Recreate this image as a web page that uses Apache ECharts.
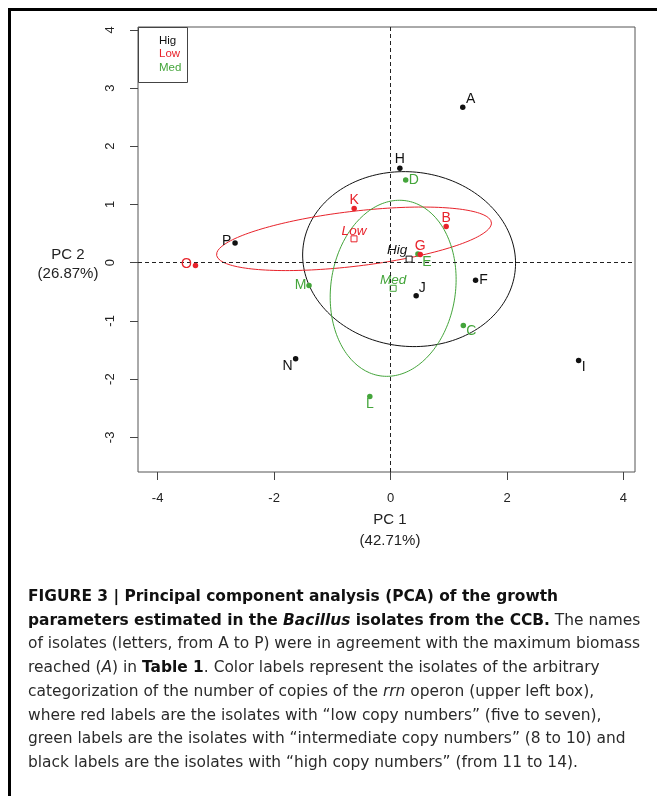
<!DOCTYPE html>
<html><head><meta charset="utf-8">
<script src="https://cdn.jsdelivr.net/npm/echarts@6/dist/echarts.min.js"></script>
<style>html,body{margin:0;padding:0;background:#fff}#c{width:657px;height:796px}</style>
</head><body><div id="c"></div>
<script>
// ---------------- DATA ----------------
const isolates = ['A','B','C','D','E','F','G','H','I','J','K','L','M','N','O','P'];
const pc1 = [1.24, 0.955, 1.25, 0.26, 0.47, 1.46, 0.51, 0.16, 3.23, 0.44, -0.625, -0.356, -1.40, -1.63, -3.35, -2.67];
const pc2 = [2.67, 0.62, -1.08, 1.42, 0.15, -0.30, 0.14, 1.62, -1.68, -0.57, 0.93, -2.30, -0.39, -1.65, -0.05, 0.34];
const copyGroup = ['Hig','Low','Med','Med','Med','Hig','Low','Hig','Hig','Hig','Low','Med','Med','Hig','Low','Hig'];
const groups = ['Hig','Low','Med'];
const xTicks = [-4, -2, 0, 2, 4];
const yTicks = [-3, -2, -1, 0, 1, 2, 3, 4];
const xTitle = 'PC 1\n(42.71%)';
const yTitle = 'PC 2\n(26.87%)';
const captionLines = [
  '{b|FIGURE 3 | Principal component analysis (PCA) of the growth}',
  '{b|parameters estimated in the }{bi|Bacillus}{b| isolates from the CCB.}{n| The names}',
  '{n|of isolates (letters, from A to P) were in agreement with the maximum biomass}',
  '{n|reached (}{i|A}{n|) in }{b|Table 1}{n|. Color labels represent the isolates of the arbitrary}',
  '{n|categorization of the number of copies of the }{i|rrn}{n| operon (upper left box),}',
  '{n|where red labels are the isolates with \u201clow copy numbers\u201d (five to seven),}',
  '{n|green labels are the isolates with \u201cintermediate copy numbers\u201d (8 to 10) and}',
  '{n|black labels are the isolates with \u201chigh copy numbers\u201d (from 11 to 14).}'
];

// ---------------- STYLE ----------------
const FONT = 'Liberation Sans';
const CAP_FONT = 'DejaVu Sans';
const CAP_SIZE = 15.45;
const groupColor = {Hig: '#111111', Low: '#e8232b', Med: '#44a53b'};
const groupZ = {Hig: 4, Low: 6, Med: 5};
const ellipseScale = {Hig: 1.0, Low: 1.41, Med: 1.22};
const labelOffset = {
  A: [8, -8], B: [0, -8], C: [8, 6], D: [8, 0], E: [9, 8], F: [8, 0], G: [0, -8.5], H: [0, -9],
  I: [5, 7], J: [6, -8], K: [0, -8.5], L: [0, 8], M: [-8.5, 0], N: [-8, 7], O: [-9, -1.5], P: [-8.5, -1.5]
};
const centroidLabelOffset = {Hig: [-12, -8.6], Low: [0, -8], Med: [0, -7.6]};

// ---------------- COMPUTE ----------------
function stats(g) {
  const idx = isolates.map((_, i) => i).filter(i => copyGroup[i] === g);
  const n = idx.length;
  const mx = idx.reduce((s, i) => s + pc1[i], 0) / n;
  const my = idx.reduce((s, i) => s + pc2[i], 0) / n;
  let sxx = 0, syy = 0, sxy = 0;
  idx.forEach(i => { const dx = pc1[i] - mx, dy = pc2[i] - my; sxx += dx * dx; syy += dy * dy; sxy += dx * dy; });
  return {idx, mx, my, sxx: sxx / n, syy: syy / n, sxy: sxy / n};
}
function ellipsePts(st, k) {
  const l11 = Math.sqrt(st.sxx), l21 = st.sxy / l11, l22 = Math.sqrt(Math.max(st.syy - l21 * l21, 0));
  const pts = [];
  for (let a = 0; a <= 360; a += 2) {
    const t = a * Math.PI / 180, c = Math.cos(t), s = Math.sin(t);
    pts.push([st.mx + k * l11 * c, st.my + k * (l21 * c + l22 * s)]);
  }
  return pts;
}

const series = [];
groups.forEach(g => {
  const st = stats(g);
  const col = groupColor[g];
  series.push({
    name: g + ' ellipse', type: 'line', data: ellipsePts(st, ellipseScale[g]), showSymbol: false, smooth: false,
    lineStyle: {color: col, width: 1}, silent: true, z: 2
  });
  series.push({
    name: g, type: 'scatter', symbol: 'circle', symbolSize: 5.5, z: groupZ[g],
    itemStyle: {color: col, opacity: 1},
    label: {show: true, position: 'inside', align: 'center', verticalAlign: 'middle', formatter: p => p.data.value[2],
      color: col, fontFamily: FONT, fontSize: 14},
    data: st.idx.map(i => ({value: [pc1[i], pc2[i], isolates[i]], label: {offset: labelOffset[isolates[i]]}}))
  });
  series.push({
    name: g + ' centre', type: 'scatter', symbol: 'rect', symbolSize: 6, z: 3,
    itemStyle: {color: '#ffffff', borderColor: col, borderWidth: 1, opacity: 1},
    label: {show: true, position: 'inside', align: 'center', verticalAlign: 'middle', formatter: g,
      color: col, fontFamily: FONT, fontSize: 13.5, fontStyle: 'italic', offset: centroidLabelOffset[g]},
    data: [[st.mx, st.my]]
  });
});
series.push({
  name: 'ref', type: 'line', data: [], silent: true,
  markLine: {silent: true, symbol: ['none', 'none'], label: {show: false},
    lineStyle: {color: '#222', width: 1, type: [4, 3]},
    data: [{xAxis: 0}, {yAxis: 0}]}
});

const captionGraphics = captionLines.map((t, i) => ({
  type: 'text', x: 28, y: 597 + i * 23.7,
  style: {
    text: t, fontFamily: CAP_FONT, fontSize: CAP_SIZE, fill: '#2a2a2a', verticalAlign: 'middle', align: 'left',
    rich: {
      b: {fontFamily: CAP_FONT, fontSize: CAP_SIZE, fontWeight: 'bold', fill: '#111'},
      bi: {fontFamily: CAP_FONT, fontSize: CAP_SIZE, fontWeight: 'bold', fontStyle: 'italic', fill: '#111'},
      n: {fontFamily: CAP_FONT, fontSize: CAP_SIZE, fill: '#2a2a2a'},
      i: {fontFamily: CAP_FONT, fontSize: CAP_SIZE, fontStyle: 'italic', fill: '#2a2a2a'}
    }
  }
}));

const chart = echarts.init(document.getElementById('c'), null, {renderer: 'canvas'});
chart.setOption({
  animation: false,
  backgroundColor: '#ffffff',
  grid: {left: 138, top: 27, width: 497, height: 445, show: true, borderColor: '#555', borderWidth: 1, containLabel: false},
  xAxis: {
    type: 'value', min: -4.337, max: 4.198,
    axisLine: {show: false, onZero: false}, splitLine: {show: false},
    axisTick: {show: true, customValues: xTicks, length: 8, lineStyle: {color: '#444'}},
    axisLabel: {customValues: xTicks, margin: 20, fontFamily: FONT, fontSize: 13, color: '#222'}
  },
  yAxis: {
    type: 'value', min: -3.595, max: 4.048,
    axisLine: {show: false, onZero: false}, splitLine: {show: false},
    axisTick: {show: true, customValues: yTicks, length: 8, lineStyle: {color: '#444'}},
    axisLabel: {customValues: yTicks, rotate: 90, margin: 21, fontFamily: FONT, fontSize: 13, color: '#222'}
  },
  legend: {
    data: groups.map(g => ({name: g, textStyle: {color: groupColor[g]}})),
    orient: 'vertical', left: 154, top: 34, icon: 'none', itemWidth: 0, itemHeight: 13.5, itemGap: 0,
    selectedMode: false, padding: 0,
    textStyle: {fontFamily: FONT, fontSize: 11.5, lineHeight: 13.5}
  },
  graphic: [
    {type: 'rect', shape: {x: 138.5, y: 27.5, width: 49, height: 55}, style: {fill: 'none', stroke: '#444', lineWidth: 1}, z: 10},
    {type: 'line', shape: {x1: 8, y1: 9.5, x2: 657, y2: 9.5}, style: {stroke: '#000', lineWidth: 3}},
    {type: 'line', shape: {x1: 9.5, y1: 8, x2: 9.5, y2: 796}, style: {stroke: '#000', lineWidth: 3}},
    {type: 'text', x: 390, y: 509, style: {text: xTitle, fontFamily: FONT, fontSize: 15, lineHeight: 21.5, fill: '#222', align: 'center', verticalAlign: 'top'}},
    {type: 'text', x: 68, y: 245, style: {text: yTitle, fontFamily: FONT, fontSize: 15, lineHeight: 19, fill: '#222', align: 'center', verticalAlign: 'top'}}
  ].concat(captionGraphics),
  series: series
});
</script>
</body></html>
